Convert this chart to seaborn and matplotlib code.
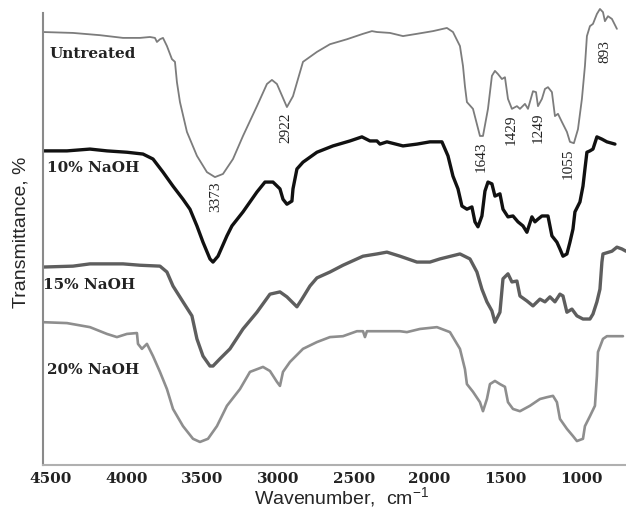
import numpy as np
import pandas as pd
import matplotlib
matplotlib.use("Agg")
import matplotlib.pyplot as plt
import seaborn as sns

# FTIR spectra (stacked, arbitrary offsets)
untreated_wn = [4552, 4354, 4176, 4024, 3912, 3846, 3813, 3800, 3780, 3760, 3734, 3701, 3681, 3668,
                3648, 3602, 3536, 3470, 3417, 3364, 3298, 3232, 3140, 3074, 3041, 3008, 2942, 2902,
                2856, 2836, 2744, 2658, 2546, 2440, 2381, 2348, 2262, 2176, 2084, 1978, 1886, 1846,
                1800, 1780, 1767, 1754, 1714, 1668, 1648, 1615, 1589, 1569, 1549, 1523, 1503, 1483,
                1457, 1424, 1404, 1371, 1351, 1318, 1298, 1285, 1259, 1239, 1219, 1193, 1173, 1153,
                1127, 1094, 1074, 1048, 1021, 995, 975, 962, 942, 922, 896, 876, 856, 843, 823, 797, 764]
untreated_t = [95.8, 95.6, 95.1, 94.5, 94.5, 94.7, 94.5, 93.6, 94.2, 94.5, 92.7, 89.8, 89.2, 84.7,
               80.3, 73.7, 68.4, 64.8, 63.7, 64.4, 67.7, 72.8, 79.4, 84.3, 85.2, 84.3, 79.2, 81.6,
               86.9, 89.2, 91.4, 93.1, 94.2, 95.4, 96.0, 95.8, 95.6, 94.9, 95.4, 96.0, 96.7, 95.8,
               92.7, 88.3, 83.8, 80.3, 78.8, 72.8, 72.8, 78.8, 86.1, 87.2, 86.5, 85.4, 85.8, 81.0,
               78.8, 79.4, 78.8, 79.9, 78.8, 82.7, 82.5, 79.4, 81.0, 83.2, 83.6, 82.5, 77.2, 77.7,
               75.9, 73.7, 71.5, 71.2, 74.3, 81.0, 88.3, 94.9, 97.1, 97.6, 99.8, 100.9, 100.2, 98.2,
               99.3, 98.7, 96.5]

naoh10_wn = [4552, 4394, 4242, 4130, 3998, 3892, 3826, 3760, 3694, 3628, 3582, 3536, 3496, 3450,
             3430, 3397, 3338, 3305, 3232, 3140, 3087, 3034, 2988, 2968, 2942, 2909, 2902, 2876,
             2836, 2744, 2638, 2526, 2447, 2394, 2348, 2328, 2282, 2176, 2084, 1998, 1919, 1879,
             1846, 1813, 1787, 1754, 1721, 1701, 1681, 1655, 1635, 1615, 1589, 1569, 1536, 1516,
             1483, 1450, 1417, 1384, 1358, 1325, 1305, 1285, 1259, 1219, 1193, 1160, 1140, 1120,
             1094, 1074, 1054, 1041, 1008, 988, 975, 962, 942, 922, 896, 863, 830, 777]
naoh10_t = [69.5, 69.5, 69.9, 69.5, 69.2, 68.8, 67.7, 64.8, 61.7, 58.8, 56.6, 52.9, 49.3, 45.6,
            44.9, 46.2, 50.7, 52.9, 56.0, 60.4, 62.6, 62.6, 61.1, 58.8, 57.7, 58.4, 61.1, 65.5,
            67.0, 69.2, 70.6, 71.7, 72.6, 71.7, 71.7, 71.0, 71.5, 70.6, 71.0, 71.5, 71.5, 68.4,
            63.9, 61.1, 57.3, 56.6, 57.1, 53.8, 52.7, 55.1, 60.6, 62.6, 62.2, 59.5, 60.0, 56.6,
            54.9, 55.1, 53.8, 52.9, 51.5, 54.9, 53.8, 54.4, 55.1, 55.1, 50.7, 49.3, 47.8, 46.2,
            46.7, 49.3, 52.2, 56.0, 58.2, 61.7, 65.5, 69.2, 69.5, 69.9, 72.6, 72.1, 71.5, 71.0]

naoh15_wn = [4552, 4354, 4242, 4024, 3912, 3780, 3734, 3694, 3628, 3569, 3536, 3496, 3450, 3430,
             3384, 3318, 3232, 3140, 3054, 2988, 2942, 2876, 2843, 2790, 2744, 2658, 2572, 2440,
             2348, 2282, 2196, 2084, 1998, 1932, 1800, 1734, 1688, 1655, 1622, 1589, 1569, 1536,
             1516, 1483, 1457, 1424, 1404, 1358, 1318, 1272, 1239, 1206, 1173, 1140, 1120, 1094,
             1061, 1028, 988, 942, 922, 896, 876, 863, 856, 797, 764, 731, 704]
naoh15_t = [43.8, 44.0, 44.5, 44.5, 44.2, 44.0, 42.7, 39.6, 36.1, 33.0, 27.9, 24.1, 21.9, 21.9,
            23.5, 25.7, 30.1, 33.8, 37.8, 38.3, 37.2, 35.0, 36.7, 39.6, 41.4, 42.7, 44.2, 46.2,
            46.7, 47.1, 46.2, 44.9, 44.9, 45.6, 46.7, 45.6, 42.7, 38.9, 36.1, 34.1, 31.6, 33.8,
            41.2, 42.3, 40.5, 40.7, 37.4, 36.3, 35.2, 36.7, 36.1, 37.2, 36.1, 37.8, 37.4, 33.8,
            34.5, 33.0, 32.3, 32.3, 33.4, 36.1, 38.9, 44.9, 46.7, 47.3, 48.2, 47.8, 47.3]

naoh20_wn = [4552, 4394, 4242, 4130, 4064, 3998, 3932, 3925, 3899, 3866, 3826, 3780, 3734, 3694,
             3628, 3562, 3516, 3463, 3404, 3338, 3252, 3186, 3100, 3054, 3008, 2988, 2968, 2922,
             2836, 2744, 2658, 2572, 2480, 2440, 2427, 2414, 2308, 2196, 2150, 2064, 1952, 1866,
             1800, 1767, 1754, 1714, 1668, 1648, 1622, 1602, 1569, 1536, 1503, 1483, 1450, 1404,
             1338, 1272, 1226, 1186, 1160, 1140, 1094, 1054, 1028, 988, 975, 942, 909, 896, 889,
             856, 830, 724]
naoh20_t = [31.6, 31.4, 30.5, 29.0, 28.3, 29.0, 29.2, 26.8, 25.7, 26.8, 24.1, 20.6, 16.8, 12.4,
            8.6, 5.8, 5.1, 5.8, 8.6, 13.1, 16.8, 20.6, 21.7, 20.8, 18.4, 17.5, 20.6, 22.8,
            25.7, 27.2, 28.3, 28.5, 29.6, 29.6, 28.3, 29.6, 29.6, 29.6, 29.4, 30.1, 30.5, 29.4,
            25.7, 21.2, 17.9, 16.2, 13.9, 11.9, 14.6, 17.9, 18.6, 17.9, 17.3, 13.9, 12.4, 11.9,
            13.1, 14.6, 15.0, 15.3, 13.9, 10.2, 8.0, 6.4, 5.3, 5.8, 8.6, 10.8, 13.1, 19.7, 25.0,
            27.9, 28.5, 28.5]

series_names = ["Untreated", "10% NaOH", "15% NaOH", "20% NaOH"]
series_label_pos = [(4506, 91.2), (4526, 65.9), (4552, 40.0), (4526, 21.2)]

peak_labels = ["3373", "2922", "1643", "1429", "1249", "1055", "893"]
peak_label_pos = [(3410, 59.5), (2952, 74.8), (1661, 68.4), (1463, 74.3),
                  (1285, 74.8), (1087, 66.8), (843, 91.8)]

xticks = [4500, 4000, 3500, 3000, 2500, 2000, 1500, 1000]

sns.set_style("white")
plt.rcParams["font.family"] = ["Liberation Sans", "DejaVu Sans"]
plt.rcParams["mathtext.fontset"] = "custom"
plt.rcParams["mathtext.rm"] = "Liberation Sans"
plt.rcParams["mathtext.it"] = "Liberation Sans:italic"

fig = plt.figure(figsize=(6.26, 5.10), dpi=100)
ax = fig.add_axes([43 / 626, 44 / 510, 583 / 626, 461 / 510])

styles = [("#7c7c7c", 1.3), ("#111111", 2.4), ("#5e5e5e", 2.4), ("#8e8e8e", 1.9)]
data = [(untreated_wn, untreated_t), (naoh10_wn, naoh10_t),
        (naoh15_wn, naoh15_t), (naoh20_wn, naoh20_t)]
for (wn, t), (col, lw) in zip(data, styles):
    sns.lineplot(x=wn, y=t, ax=ax, color=col, linewidth=lw, sort=False, estimator=None)

for name, (x, y) in zip(series_names, series_label_pos):
    ax.text(x, y, name, fontfamily="DejaVu Serif", fontweight="bold", fontsize=11,
            color="#222222", ha="left", va="center")

for lab, (x, y) in zip(peak_labels, peak_label_pos):
    ax.text(x, y, lab, fontfamily="Liberation Serif", fontsize=11, rotation=90,
            color="#222222", ha="center", va="center")

ax.set_xlim(4552, 704)
ax.set_ylim(0, 102)
ax.set_xticks(xticks)
ax.set_xticklabels([str(v) for v in xticks], fontfamily="DejaVu Serif",
                   fontweight="bold", fontsize=11, color="#222222")
ax.set_yticks([])
ax.tick_params(axis="x", length=0, pad=4)

for s in ["top", "right"]:
    ax.spines[s].set_visible(False)
ax.spines["left"].set_color("#8a8a8a")
ax.spines["left"].set_linewidth(1.5)
ax.spines["left"].set_bounds(0, 100)
ax.spines["bottom"].set_color("#b0b0b0")
ax.spines["bottom"].set_linewidth(1.5)

ax.set_ylabel("Transmittance, %", fontsize=14)
ax.set_xlabel("Wavenumber,  cm$^{-1}$", fontsize=14)
ax.yaxis.set_label_coords(-13 / 583, (466 - 232) / 461)
ax.xaxis.set_label_coords((342 - 43) / 583, -(485 - 466) / 461)

fig.savefig("out.png", dpi=100)
